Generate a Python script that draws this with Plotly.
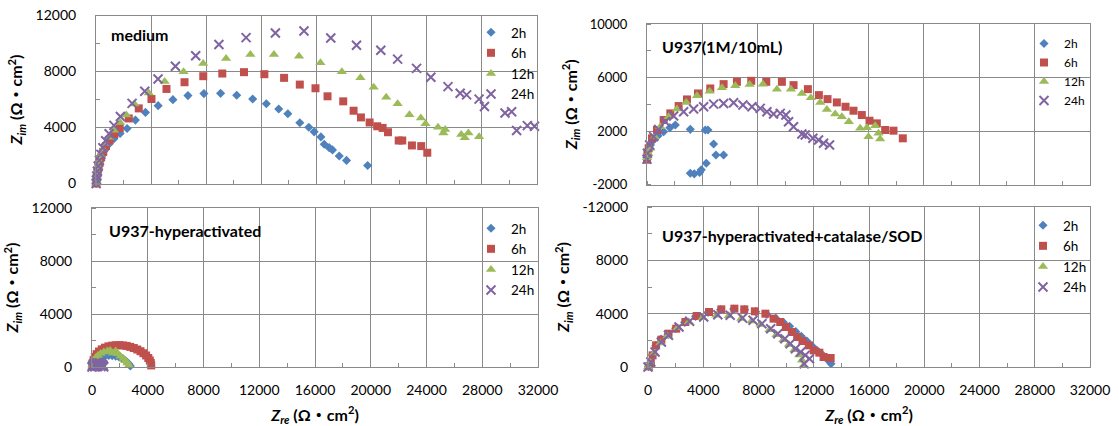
import plotly.graph_objects as go

# ---------------- data ----------------
series_names = ["2h", "6h", "12h", "24h"]
panel_titles = ["medium", "U937(1M/10mL)", "U937-hyperactivated", "U937-hyperactivated+catalase/SOD"]

x_ticks = [0, 4000, 8000, 12000, 16000, 20000, 24000, 28000, 32000]
x_ticktext = ["0", "4000", "8000", "12000", "16000", "20000", "24000", "28000", "32000"]
y_ticks_a = [0, 4000, 8000, 12000]
y_ticktext_a = ["0", "4000", "8000", "12000"]
y_ticks_b = [-2000, 2000, 6000, 10000]
y_ticktext_b = ["-2000", "2000", "6000", "10000"]
y_ticktext_d = ["0", "4000", "8000", "-12000"]

# panel 1: medium
med_2h_x = [10, 30, 60, 100, 160, 240, 350, 500, 700, 950, 1300, 1750, 2255, 2860, 3590, 4510, 5580, 6670, 7830, 9040, 10210, 11370, 12360, 13260, 13920, 14790, 15440, 15830, 16320, 16560, 16920, 17160, 17650, 18180, 19710]
med_2h_y = [0, 200, 430, 700, 1000, 1330, 1680, 2050, 2450, 2820, 3200, 3580, 3930, 4530, 5080, 5560, 5990, 6280, 6420, 6440, 6300, 6040, 5700, 5320, 4980, 4340, 4020, 3690, 3330, 2800, 2560, 2400, 1960, 1650, 1290]
med_6h_x = [15, 40, 75, 120, 180, 260, 370, 520, 720, 980, 1330, 1721, 2376, 3103, 4024, 5115, 6424, 7782, 9164, 10739, 12218, 13648, 14788, 15927, 16800, 17939, 18691, 19224, 19855, 20408, 20797, 21186, 21964, 22224, 22924, 23598, 24039]
med_6h_y = [0, 220, 470, 780, 1120, 1480, 1860, 2260, 2680, 3100, 3530, 3952, 4647, 5365, 6036, 6754, 7234, 7665, 7856, 7952, 7808, 7545, 7066, 6802, 6228, 5868, 5198, 4719, 4359, 4087, 3969, 3662, 3071, 3071, 2717, 2670, 2197]
med_12h_x = [10, 30, 60, 100, 160, 240, 350, 500, 700, 950, 1300, 1750, 2200, 2788, 3830, 4979, 6353, 7780, 9439, 11203, 12914, 14730, 16285, 17841, 19190, 20149, 21057, 21886, 22742, 23572, 23909, 24817, 25335, 25205, 26502, 26761, 27020, 27798]
med_12h_y = [0, 230, 500, 830, 1200, 1580, 1980, 2420, 2880, 3300, 3800, 4350, 4900, 5677, 6467, 7277, 7986, 8577, 8931, 9214, 9214, 9096, 8624, 7986, 7561, 6875, 6167, 5694, 4914, 4678, 4276, 4017, 3851, 3615, 3497, 3260, 3615, 3331]
med_24h_x = [10, 30, 60, 100, 160, 240, 350, 500, 700, 950, 1300, 1770, 2618, 3539, 4500, 5760, 7234, 8921, 10889, 13017, 15091, 17036, 18903, 20666, 21886, 23261, 24298, 25543, 26424, 26891, 27798, 28187, 29680, 30160, 30522, 31300, 31818]
med_24h_y = [0, 250, 530, 870, 1250, 1650, 2080, 2550, 3050, 3550, 4150, 4790, 5725, 6587, 7460, 8380, 9120, 9923, 10419, 10750, 10892, 10395, 9876, 9522, 8884, 8222, 7584, 6922, 6450, 6331, 6024, 5505, 5032, 5129, 3780, 4134, 4087]

# panel 2: U937(1M/10mL)
u_2h_x = [0, 40, 120, 250, 480, 800, 1203, 1650, 2045, 3128, 4211, 4403, 4812, 4980, 5534, 4282, 3920, 3800, 3416, 3128]
u_2h_y = [0, 250, 580, 950, 1330, 1650, 1950, 2250, 2447, 2124, 2075, 2075, 1031, 211, 211, -410, -906, -1105, -1205, -1155]
u_6h_x = [0, 30, 120, 361, 722, 1203, 1684, 2286, 2887, 3681, 4571, 5534, 6496, 7531, 8614, 9744, 10586, 11621, 12415, 13041, 13714, 14340, 14917, 15519, 16072, 16602, 17203, 17805, 18478]
u_6h_y = [-150, 300, 708, 1453, 2075, 2820, 3317, 3863, 4360, 4807, 5180, 5503, 5677, 5752, 5677, 5677, 5429, 5130, 4683, 4385, 4137, 3814, 3516, 3193, 2770, 2571, 2075, 2025, 1453]
u_12h_x = [0, 100, 241, 553, 962, 1564, 2165, 2839, 3609, 4523, 5414, 6376, 7411, 8373, 9383, 10394, 11188, 11838, 12511, 12992, 13594, 14075, 14580, 15398, 15880, 16000, 16481, 16842, 16722]
u_12h_y = [0, 300, 708, 1578, 2323, 3068, 3640, 4137, 4634, 4981, 5230, 5379, 5478, 5503, 5130, 5130, 4807, 4484, 4137, 3615, 3267, 3068, 2696, 2199, 2249, 1578, 2398, 1404, 1826]
u_24h_x = [0, 30, 192, 481, 842, 1323, 1925, 2647, 3368, 4090, 4812, 5534, 6256, 6929, 7579, 8180, 8662, 9143, 9624, 10033, 10226, 10586, 11188, 11429, 11982, 12391, 12752, 13185]
u_24h_y = [-100, 335, 956, 1578, 2124, 2696, 3118, 3441, 3640, 3814, 4012, 4062, 4112, 3938, 3814, 3689, 3441, 3267, 3317, 3193, 2696, 2323, 1777, 1702, 1454, 1330, 1081, 957]

# panel 3: U937-hyperactivated
h_2h_x = [20, 70, 160, 300, 480, 700, 950, 1200, 1450, 1700, 1950, 2150, 2350, 2500, 2650, 2750]
h_2h_y = [40, 200, 380, 540, 680, 780, 840, 870, 860, 820, 740, 640, 520, 380, 230, 80]
h_6h_x = [20, 50, 110, 200, 330, 500, 700, 930, 1180, 1440, 1700, 1960, 2220, 2480, 2740, 3000, 3250, 3480, 3690, 3880, 4040, 4150, 4220, 4250]
h_6h_y = [80, 290, 510, 750, 970, 1170, 1330, 1460, 1560, 1610, 1640, 1650, 1630, 1590, 1520, 1430, 1320, 1190, 1040, 870, 680, 490, 300, 120]
h_12h_x = [20, 60, 140, 260, 420, 620, 850, 1100, 1300, 1500, 1700, 1850, 2050, 2250, 2400, 2550, 2650]
h_12h_y = [50, 260, 480, 690, 870, 1020, 1130, 1200, 1250, 1050, 1200, 1000, 820, 640, 470, 300, 120]
h_24h_x = [0, 40, 100, 180, 280, 390, 500, 610, 700, 770, 820, 840, 200, 420, 640]
h_24h_y = [0, 100, 180, 240, 280, 300, 300, 280, 230, 160, 80, 10, 20, 40, 30]

# panel 4: U937-hyperactivated+catalase/SOD
c_2h_x = [40, 180, 320, 560, 940, 1450, 2000, 2650, 3450, 4350, 5250, 6200, 7000, 7800, 8600, 9250, 9800, 10250, 10700, 11100, 11500, 11900, 12300, 12700, 13000, 13250]
c_2h_y = [30, 300, 900, 1600, 2100, 2450, 2900, 3350, 3800, 4100, 4300, 4350, 4300, 4150, 3950, 3650, 3350, 3050, 2650, 2300, 1950, 1550, 1200, 850, 550, 250]
c_6h_x = [60, 204, 332, 587, 970, 1481, 2042, 2706, 3523, 4416, 5310, 6254, 6969, 7735, 8500, 9088, 9573, 9981, 10415, 10798, 11181, 11640, 11998, 12406, 12712, 13223]
c_6h_y = [50, 250, 875, 1625, 2050, 2500, 2875, 3375, 3825, 4125, 4325, 4375, 4325, 4175, 4000, 3625, 3375, 3000, 2625, 2250, 1950, 1625, 1250, 1075, 750, 675]
c_12h_x = [0, 150, 450, 900, 1400, 2150, 2950, 3950, 4950, 5850, 6750, 7500, 8150, 8800, 9300, 9800, 10200, 10600, 10950, 11150, 11250]
c_12h_y = [0, 330, 1050, 1800, 2300, 2950, 3380, 3700, 3880, 3850, 3640, 3450, 3180, 2800, 2420, 2050, 1680, 1300, 900, 500, 100]
c_24h_x = [0, 204, 511, 970, 1481, 2246, 3012, 4033, 5054, 5948, 6841, 7607, 8245, 8883, 9394, 9905, 10288, 10671, 11053, 11385, 11691, 11308]
c_24h_y = [0, 375, 1125, 1875, 2375, 3000, 3425, 3750, 3925, 3875, 3675, 3500, 3250, 2875, 2500, 2125, 1750, 1375, 1125, 875, 625, 250]

# ---------------- styling ----------------
FONT = "Lato, 'Noto Sans CJK SC', sans-serif"
GRID = "#8a8a8a"
colors = ["#4F81BD", "#C0504D", "#9BBB59", "#8064A2"]
markers = [
    dict(symbol="diamond", size=7, color=colors[0]),
    dict(symbol="square", size=8, color=colors[1]),
    dict(symbol="triangle-up", size=9, color=colors[2]),
    dict(symbol="x-thin", size=9, color=colors[3], line=dict(width=2, color=colors[3])),
]

panels = [
    ([med_2h_x, med_6h_x, med_12h_x, med_24h_x], [med_2h_y, med_6h_y, med_12h_y, med_24h_y]),
    ([u_2h_x, u_6h_x, u_12h_x, u_24h_x], [u_2h_y, u_6h_y, u_12h_y, u_24h_y]),
    ([h_2h_x, h_6h_x, h_12h_x, h_24h_x], [h_2h_y, h_6h_y, h_12h_y, h_24h_y]),
    ([c_2h_x, c_6h_x, c_12h_x, c_24h_x], [c_2h_y, c_6h_y, c_12h_y, c_24h_y]),
]

W, H = 1119, 426
# plot areas in pixels: (left, right, top, bottom)
boxes = [(96, 537, 15.5, 183.5), (647, 1090, 24, 184.5), (92, 538, 208, 367), (648, 1090, 207, 367)]
legend_pos = [(471, 17), (1024, 29), (471, 213), (1023, 210)]
legend_font = [13.5, 12, 13.5, 13.5]
tick_font = [14, 13, 14, 14]
title_pos = [(109, 35), (660, 46.7), (107, 230), (660, 235)]

fig = go.Figure()
for p, (xs, ys) in enumerate(panels):
    sfx = "" if p == 0 else str(p + 1)
    for s in range(4):
        fig.add_trace(go.Scatter(
            x=xs[s], y=ys[s], mode="markers", name=series_names[s],
            marker=markers[s], xaxis="x" + sfx, yaxis="y" + sfx,
            legend="legend" + sfx, cliponaxis=False,
            hoverinfo="x+y+name",
        ))

y_title = "<b><i>Z</i><sub><i>im</i></sub> (Ω・cm<sup>2</sup>)</b>"
x_title = "<b><i>Z</i><sub><i>re</i></sub> (Ω・cm<sup>2</sup>)</b>"

layout = dict(
    width=W, height=H, margin=dict(l=0, r=0, t=0, b=0, autoexpand=False),
    paper_bgcolor="white", plot_bgcolor="white",
    font=dict(family=FONT, size=14, color="#000000"),
    annotations=[],
)
for p in range(4):
    sfx = "" if p == 0 else str(p + 1)
    l, r, t, b = boxes[p]
    bottom_row = p >= 2
    xa = dict(
        domain=[l / W, r / W], range=[0, 32000], tickmode="array",
        tickvals=x_ticks, ticktext=x_ticktext,
        showticklabels=bottom_row, showgrid=True, gridcolor=GRID, gridwidth=1,
        showline=True, linecolor=GRID, linewidth=1, mirror=True, zeroline=False,
        ticks="", ticklabelstandoff=10, tickfont=dict(size=tick_font[p], family=FONT),
        minor=dict(tick0=0, dtick=2000, ticks="inside", ticklen=4, tickcolor=GRID, showgrid=False),
        anchor="y" + sfx, fixedrange=True, automargin=False,
    )
    if bottom_row:
        xa["title"] = dict(text=x_title, font=dict(size=16, family=FONT), standoff=13)
    if p == 1:
        yr, yt, ytt, t0 = [-2000, 10000], y_ticks_b, y_ticktext_b, -2000
    elif p == 3:
        yr, yt, ytt, t0 = [0, 12000], y_ticks_a, y_ticktext_d, 0
    else:
        yr, yt, ytt, t0 = [0, 12000], y_ticks_a, y_ticktext_a, 0
    ya = dict(
        domain=[1 - b / H, 1 - t / H], range=yr, tickmode="array", tickvals=yt, ticktext=ytt,
        showgrid=True, gridcolor=GRID, gridwidth=1,
        showline=True, linecolor=GRID, linewidth=1, mirror=True, zeroline=False,
        ticks="", ticklabelstandoff=16, tickfont=dict(size=tick_font[p], family=FONT),
        minor=dict(tick0=t0, dtick=2000, ticks="inside", ticklen=4, tickcolor=GRID, showgrid=False),
        title=dict(text=y_title, font=dict(size=16, family=FONT), standoff=8),
        anchor="x" + sfx, fixedrange=True, automargin=False,
    )
    layout["xaxis" + sfx] = xa
    layout["yaxis" + sfx] = ya
    lx, ly = legend_pos[p]
    layout["legend" + sfx] = dict(
        x=lx / W, y=1 - ly / H, xanchor="left", yanchor="top",
        bgcolor="rgba(0,0,0,0)", borderwidth=0, itemwidth=30,
        font=dict(size=legend_font[p], family=FONT), tracegroupgap=0, itemclick=False,
    )
    tx, ty = title_pos[p]
    layout["annotations"].append(dict(
        text="<b>" + panel_titles[p] + "</b>", x=tx / W, y=1 - ty / H,
        xref="paper", yref="paper", xanchor="left", yanchor="middle",
        showarrow=False, font=dict(size=16, family=FONT, color="#000000"),
    ))

fig.update_layout(**layout)
fig.write_html(
    "out.html",
    config={"displayModeBar": False},
    post_script="document.body.style.margin='0px';document.body.style.padding='0px';document.documentElement.style.overflow='hidden';",
)
